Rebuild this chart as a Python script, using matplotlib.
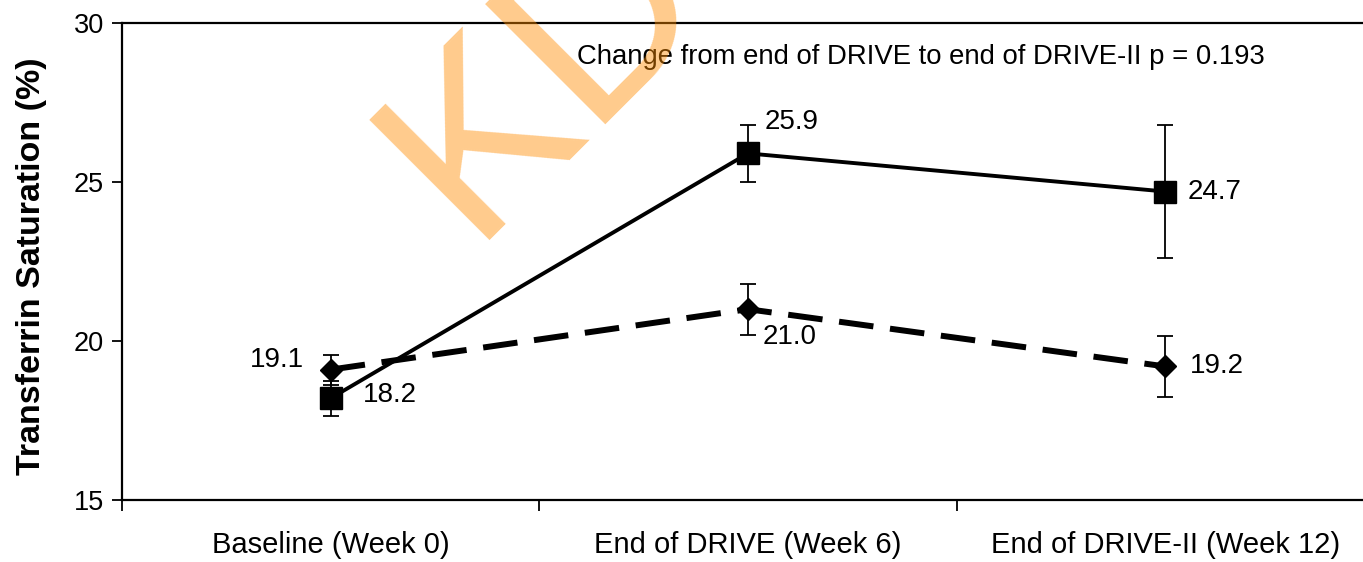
import matplotlib
matplotlib.use("Agg")
import matplotlib.pyplot as plt
from matplotlib.ticker import FixedLocator, NullFormatter

plt.rcParams['font.family'] = ['Liberation Sans', 'DejaVu Sans']

# Data
categories = ["Baseline (Week 0)", "End of DRIVE (Week 6)", "End of DRIVE-II (Week 12)"]
square_vals = [18.2, 25.9, 24.7]
square_err = [0.55, 0.9, 2.1]
diamond_vals = [19.1, 21.0, 19.2]
diamond_err = [0.47, 0.8, 0.95]
annotation_text = "Change from end of DRIVE to end of DRIVE-II p = 0.193"

W, H, DPI = 1363, 562, 100
fig = plt.figure(figsize=(W / DPI, H / DPI), dpi=DPI)
ax = fig.add_axes([122 / W, 1 - 500 / H, (1374 - 122) / W, (500 - 23) / H])

x = list(range(len(categories)))

# Solid series with squares
ax.errorbar(x, square_vals, yerr=square_err, color='black', lw=2.8,
            marker='s', markersize=15.5, capsize=6, elinewidth=1.3,
            capthick=1.3, zorder=3)
# Dashed series with diamonds
ax.errorbar(x, diamond_vals, yerr=diamond_err, color='black', lw=4.3,
            linestyle=(0, (5.8, 2.8)), marker='D', markersize=11.5,
            capsize=6, elinewidth=1.3, capthick=1.3, zorder=3)

# Value labels (offsets in pixels)
sq_offsets = [(32, 3, 'left'), (17, 31, 'left'), (22, 0, 'left')]
di_offsets = [(-27, 10, 'right'), (15, -28, 'left'), (25, 0, 'left')]
for xi, v, (dx, dy, ha) in zip(x, square_vals, sq_offsets):
    ax.annotate(f"{v:.1f}", (xi, v), xytext=(dx, dy), textcoords='offset pixels',
                ha=ha, va='center', fontsize=20)
for xi, v, (dx, dy, ha) in zip(x, diamond_vals, di_offsets):
    ax.annotate(f"{v:.1f}", (xi, v), xytext=(dx, dy), textcoords='offset pixels',
                ha=ha, va='center', fontsize=20)

ax.text(577 / W, 1 - 57 / H, annotation_text, transform=fig.transFigure,
        ha='left', va='center', fontsize=19.8)

# Axes styling
ax.set_xlim(-0.5, 2.5)
ax.set_ylim(15, 30)
ax.set_yticks([15, 20, 25, 30])
ax.set_xticks(x)
ax.set_xticklabels(categories)
ax.xaxis.set_minor_locator(FixedLocator([-0.5, 0.5, 1.5, 2.5]))
ax.xaxis.set_minor_formatter(NullFormatter())
ax.tick_params(axis='x', which='major', length=0, pad=22, labelsize=21)
ax.tick_params(axis='x', which='minor', length=8, width=1.3, direction='out')
ax.tick_params(axis='y', length=7, width=1.3, direction='out', labelsize=19.5, pad=6)
for side in ['left', 'top', 'bottom']:
    ax.spines[side].set_linewidth(1.6)
ax.spines['right'].set_visible(False)

ax.set_ylabel("Transferrin Saturation (%)", fontsize=24.5, fontweight='bold')
ax.yaxis.set_label_coords(-0.0599, 0.4906)

# Watermark
fig.text(470 / W, 1 - 240 / H, "KDI", rotation=45, rotation_mode='anchor',
         ha='left', va='baseline', fontsize=178, color=(1.0, 0.55, 0.0),
         alpha=0.45, zorder=10)

fig.savefig("out.png", dpi=DPI)
